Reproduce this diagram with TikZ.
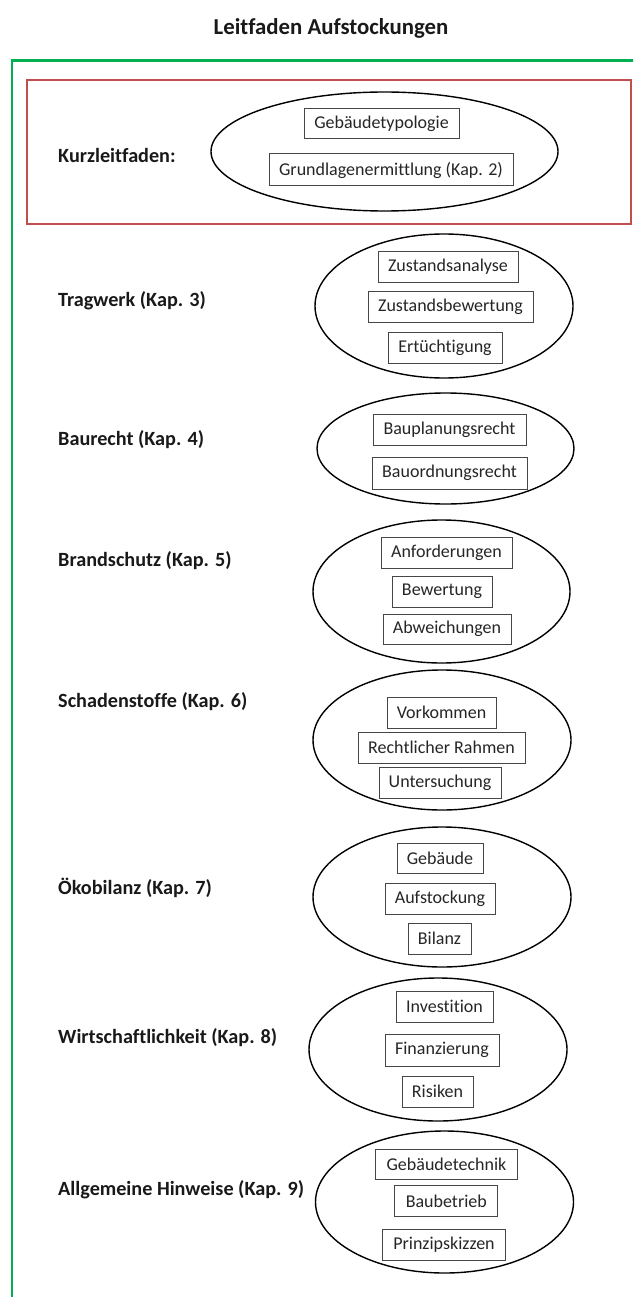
\documentclass[tikz,border=0pt]{standalone}
\usepackage{fontspec}
\setmainfont{Carlito}[Ligatures=NoCommon]
\usetikzlibrary{shapes.geometric}
\definecolor{grn}{RGB}{0,176,80}
\definecolor{rd}{RGB}{192,80,77}
\definecolor{boxline}{RGB}{70,70,70}
\tikzset{
  oval/.style={ellipse, draw=black, line width=1.4pt, inner sep=0pt},
  itembox/.style={draw=boxline, line width=1pt, inner sep=0pt, minimum height=31pt, font=\fontsize{18}{20}\selectfont, text=black!85},
  chap/.style={anchor=west, inner sep=0pt, font=\fontsize{20.2}{22}\selectfont\bfseries, text=black!90},
  ttl/.style={font=\fontsize{22.8}{25}\selectfont\bfseries, text=black!90},
}
\begin{document}
\begin{tikzpicture}[x=1pt,y=-1pt]
\useasboundingbox (0,0) rectangle (633,1297);
\clip (0,0) rectangle (633,1297);
\fill[white] (0,0) rectangle (633,1297);
\node[ttl] (title) at (331,28) {Leitfaden Aufstockungen};
% frames
\draw[grn, line width=2.6pt] (660,60.7) -- (12,60.7) -- (12,1320);
\draw[rd, line width=2.6pt] (27,80) rectangle (631,224);
% Kurzleitfaden
\node[chap] (l0) at (58,155) {Kurzleitfaden:};
\node[oval, minimum width=347pt, minimum height=119pt] (e0) at (384.5,151.5) {};
\node[itembox, minimum width=155pt, minimum height=30pt] (b01) at (381.5,124) {Gebäudetypologie};
\node[itembox, minimum width=244pt, minimum height=32pt] (b02) at (391,170) {Grundlagenermittlung (Kap. 2)};
% Tragwerk
\node[chap] (l3) at (58,301) {Tragwerk (Kap. 3)};
\node[oval, minimum width=258pt, minimum height=144pt] (e3) at (444,306) {};
\node[itembox, minimum width=140pt] (b31) at (448,267) {Zustandsanalyse};
\node[itembox, minimum width=165pt] (b32) at (450.5,306.5) {Zustandsbewertung};
\node[itembox, minimum width=114pt] (b33) at (445,347.5) {Ertüchtigung};
% Baurecht
\node[chap] (l4) at (58,440) {Baurecht (Kap. 4)};
\node[oval, minimum width=257pt, minimum height=111pt] (e4) at (445.5,448.5) {};
\node[itembox, minimum width=153pt] (b41) at (449.5,429.5) {Bauplanungsrecht};
\node[itembox, minimum width=155pt, minimum height=32pt] (b42) at (449.5,473) {Bauordnungsrecht};
% Brandschutz
\node[chap] (l5) at (58,561) {Brandschutz (Kap. 5)};
\node[oval, minimum width=257pt, minimum height=143pt] (e5) at (441.5,591.5) {};
\node[itembox, minimum width=131pt] (b51) at (446.5,552.5) {Anforderungen};
\node[itembox, minimum width=100pt] (b52) at (442,591.5) {Bewertung};
\node[itembox, minimum width=128pt, minimum height=30pt] (b53) at (447,629) {Abweichungen};
% Schadenstoffe
\node[chap] (l6) at (58,702) {Schadenstoffe (Kap. 6)};
\node[oval, minimum width=258pt, minimum height=140pt] (e6) at (442,740) {};
\node[itembox, minimum width=109pt] (b61) at (441.5,712.5) {Vorkommen};
\node[itembox, minimum width=167pt] (b62) at (441.5,747.5) {Rechtlicher Rahmen};
\node[itembox, minimum width=122pt] (b63) at (440,782.5) {Untersuchung};
% Oekobilanz
\node[chap] (l7) at (58,888) {Ökobilanz (Kap. 7)};
\node[oval, minimum width=258pt, minimum height=140pt] (e7) at (442,897) {};
\node[itembox, minimum width=86pt, minimum height=30pt] (b71) at (440,858) {Gebäude};
\node[itembox, minimum width=110pt] (b72) at (440,898.5) {Aufstockung};
\node[itembox, minimum width=63pt] (b73) at (439.5,938.5) {Bilanz};
% Wirtschaftlichkeit
\node[chap] (l8) at (58,1038) {Wirtschaftlichkeit (Kap. 8)};
\node[oval, minimum width=258pt, minimum height=143pt] (e8) at (438,1049.5) {};
\node[itembox, minimum width=97pt] (b81) at (444.5,1006.5) {Investition};
\node[itembox, minimum width=114pt, minimum height=32pt] (b82) at (442,1050) {Finanzierung};
\node[itembox, minimum width=71pt] (b83) at (437.5,1091.5) {Risiken};
% Allgemeine Hinweise
\node[chap] (l9) at (58,1190) {Allgemeine Hinweise (Kap. 9)};
\node[oval, minimum width=258pt, minimum height=142pt] (e9) at (444.5,1202) {};
\node[itembox, minimum width=142pt, minimum height=30pt] (b91) at (446.5,1164.3) {Gebäudetechnik};
\node[itembox, minimum width=103pt] (b92) at (446.3,1201.2) {Baubetrieb};
\node[itembox, minimum width=123pt] (b93) at (444,1245) {Prinzipskizzen};
\end{tikzpicture}
\end{document}
